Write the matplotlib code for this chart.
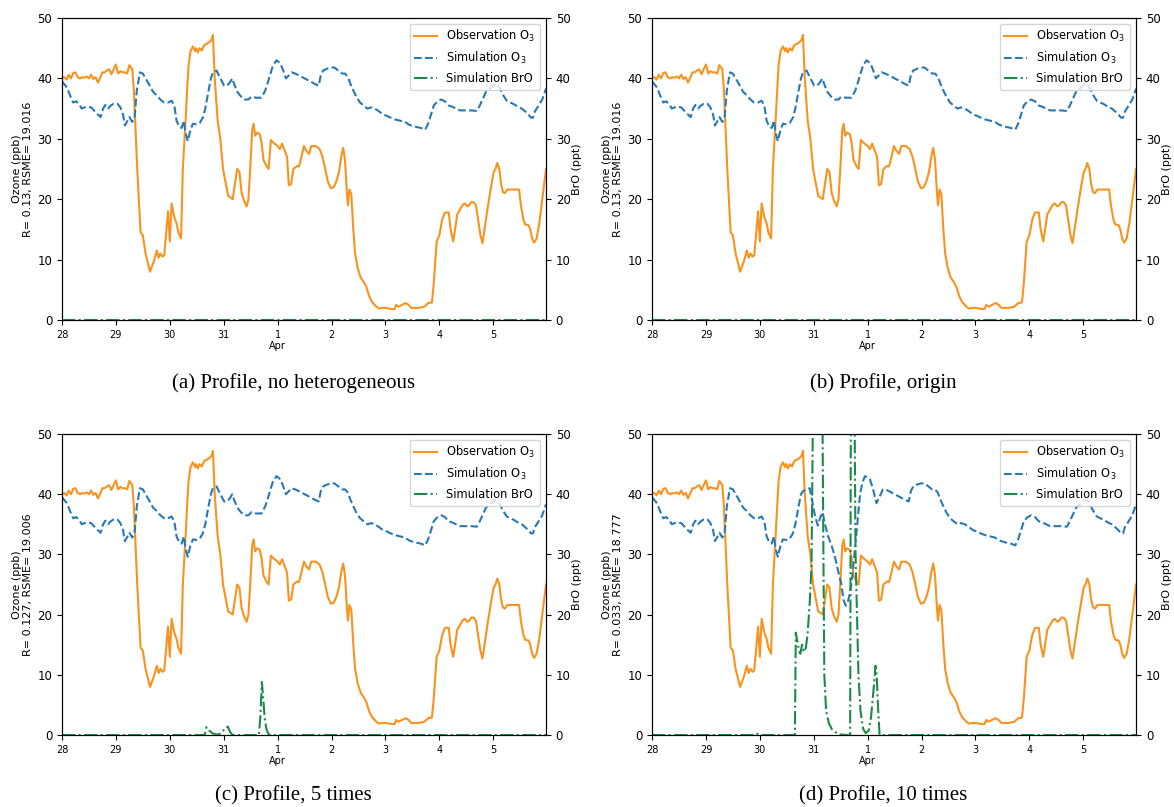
import numpy as np
import matplotlib
matplotlib.use('Agg')
import matplotlib.pyplot as plt

# hours since 28 Mar 00:00
obs_hours = [0, 1, 2, 3, 4, 5, 6, 7, 8, 9, 10, 11, 12, 13, 14, 15, 16, 17, 18, 19, 20, 21, 22, 23,
             24, 25, 26, 27, 28, 29, 30, 31.3, 32, 33.5, 35, 36, 37.2, 38.2, 39.2, 40, 41, 42.2,
             43, 43.8, 44.7, 45.5, 46.3, 47.2, 48, 48.8, 50, 51, 51.8, 53, 53.8, 55, 56.3, 57.2,
             58.3, 59.3, 59.7, 60.5, 61.3, 62.3, 63.3, 64.7, 65.7, 66.7, 67.2, 68, 69.3, 70.5,
             71.7, 73, 74, 75, 76, 76.8, 78, 79, 80, 81, 82.2, 83, 83.8, 84.7, 85.3, 86, 86.8,
             88, 88.8, 89.7, 91, 92, 93, 94.3, 96, 97, 98, 99.2, 100.2, 101, 102, 103, 104.7,
             105.5, 106.3, 107.7, 108.8, 110, 111, 113, 114.7, 116, 117.2, 118.3, 119.7, 121,
             122.2, 123.3, 124.3, 125.2, 126, 126.7, 127.3, 128, 128.8, 129.7, 130.5, 131.7, 133,
             134.3, 135.5, 136.7, 138, 139.7, 141, 143, 144.3, 145.5, 147.2, 148, 148.8, 149.7,
             151.3, 153, 154.3, 155.5, 157.2, 158.8, 161.3, 163, 164.7, 165.5, 166.8, 168, 169.2,
             170.5, 172.2, 173, 174.2, 175, 176, 177.2, 178.3, 179.3, 180.5, 181.3, 182.2, 183.3,
             184.3, 185.5, 186.3, 187.2, 188.3, 189.7, 191, 192.2, 193, 193.8, 194.7, 195.5,
             196.3, 197.2, 198.3, 200.5, 203.5, 204.3, 205.5, 206.3, 207.7, 208.5, 209.3, 210.2,
             211.3, 212.5, 213.5, 214.7, 215.5]
obs_o3 = [40.0, 40.2, 39.8, 40.6, 40.0, 40.9, 41.0, 40.2, 40.0, 40.2, 40.1, 40.3, 40.0, 40.6,
          39.9, 40.2, 39.3, 40.1, 41.0, 41.0, 41.3, 41.5, 40.7, 41.5, 42.3, 40.8, 41.2, 41.0,
          41.0, 40.8, 42.2, 41.5, 38.0, 25.0, 14.5, 14.0, 11.0, 9.5, 8.0, 8.8, 9.8, 11.5, 10.3,
          11.0, 10.5, 10.7, 14.0, 18.0, 13.0, 19.3, 17.0, 16.0, 14.5, 13.5, 25.0, 33.0, 42.0,
          44.5, 45.3, 44.5, 45.0, 44.3, 45.0, 44.6, 45.5, 45.8, 46.0, 46.5, 47.2, 40.0, 33.0,
          30.0, 25.0, 22.5, 20.5, 20.3, 20.0, 22.0, 25.0, 24.5, 21.0, 19.8, 18.8, 20.0, 25.0,
          31.5, 32.5, 30.5, 31.0, 30.8, 29.5, 26.5, 25.5, 25.0, 29.8, 29.3, 28.8, 28.3, 29.2,
          28.0, 27.0, 22.3, 22.5, 25.0, 25.5, 25.4, 26.5, 28.8, 28.0, 27.5, 28.8, 28.8, 28.3,
          27.0, 25.0, 23.0, 21.8, 22.0, 23.0, 24.5, 27.0, 28.5, 26.5, 22.0, 19.0, 21.6, 20.8,
          15.0, 11.0, 8.5, 7.0, 6.3, 5.5, 4.0, 3.0, 2.3, 1.9, 2.0, 2.0, 1.9, 1.8, 1.8, 2.5,
          2.2, 2.5, 2.8, 2.5, 2.0, 2.0, 2.0, 2.2, 2.8, 2.9, 6.0, 13.0, 14.0, 16.5, 17.8, 17.8,
          15.0, 13.0, 15.0, 17.5, 18.3, 19.0, 19.3, 18.8, 19.0, 19.5, 19.5, 19.0, 16.0, 14.0,
          12.7, 15.5, 19.0, 22.0, 24.5, 25.0, 26.0, 25.0, 22.5, 21.2, 21.0, 21.6, 21.6, 21.6,
          19.0, 16.5, 15.8, 15.7, 15.0, 13.5, 12.8, 13.5, 16.0, 19.0, 22.5, 25.0]

sim_hours = [0, 2.2, 3.8, 5, 6.3, 7.7, 8.8, 10, 11.3, 13, 14.7, 16, 17.2, 18.3, 19.3, 20.5, 21.7,
             23, 24.7, 26, 27.2, 28, 29.2, 30, 31.3, 32.3, 33.3, 34.7, 36, 37.2, 38.8, 40.5,
             42.2, 43.8, 45.5, 47.2, 48.8, 50, 51, 52.2, 53.3, 54.3, 55, 56, 57.2, 58.3, 59.7,
             61.3, 62.7, 63.8, 65, 66.3, 67.2, 68.8, 70.5, 72.2, 73.5, 74.7, 75.8, 76.7, 78,
             79.7, 81.3, 83, 84.3, 86.3, 88.8, 90.5, 92.2, 93.8, 95.5, 97.2, 98.3, 99.7, 101,
             102.2, 103.8, 105.5, 108, 110.5, 113, 114.3, 115.2, 116.3, 118, 119.7, 121.3, 123,
             124.7, 126, 127.2, 128.5, 129.7, 131, 132.7, 134.3, 136, 137.7, 139.3, 141.3, 143,
             144.7, 146.3, 148.3, 150.5, 152.7, 154.7, 157.2, 159.7, 161.7, 163, 164.3, 165.5,
             167.2, 168.8, 170.5, 172.2, 173.8, 175.5, 177.2, 179.7, 182.2, 184.7, 186, 187.2,
             188.8, 190.5, 192.2, 193.8, 195, 196.3, 198, 199.7, 201.3, 203, 204.7, 206.3,
             207.7, 208.8, 209.7, 210.5, 212.2, 213.8, 215.5]
sim_o3 = [39.5, 38.5, 37.0, 36.0, 36.2, 35.7, 35.0, 35.2, 35.3, 35.2, 34.5, 34.0, 33.6, 35.0,
          35.6, 35.0, 35.5, 35.8, 35.8, 35.2, 34.0, 32.2, 33.0, 33.6, 32.8, 33.5, 38.0, 41.0,
          40.8, 40.0, 39.0, 37.8, 37.2, 36.5, 36.0, 36.0, 36.3, 35.5, 33.0, 32.0, 31.8, 33.0,
          31.0, 29.6, 31.5, 32.5, 32.4, 32.6, 33.5, 35.0, 37.5, 40.0, 41.0, 41.3, 40.0, 38.8,
          38.8, 39.3, 40.0, 39.0, 37.8, 37.0, 36.5, 36.5, 37.0, 36.8, 36.8, 38.0, 40.0, 42.0,
          43.0, 42.5, 41.5, 40.0, 40.5, 41.0, 40.8, 40.5, 40.0, 39.5, 39.0, 38.8, 40.5, 41.3,
          41.6, 41.8, 41.8, 41.3, 40.8, 40.8, 40.3, 39.0, 38.0, 37.0, 36.0, 35.5, 35.0, 35.2,
          35.0, 34.5, 34.0, 33.8, 33.5, 33.2, 33.0, 32.8, 32.3, 32.0, 31.8, 31.5, 32.5, 34.0,
          35.5, 36.2, 36.5, 36.2, 35.5, 35.3, 35.0, 34.7, 34.7, 34.7, 34.6, 35.5, 36.5, 37.8,
          38.3, 39.0, 39.0, 38.3, 37.3, 36.3, 36.0, 35.7, 35.3, 35.0, 34.5, 34.0, 33.5, 33.5,
          34.5, 35.5, 36.5, 38.3]

# simulation O3 for the 10 times run (differs between 31 Mar and 1 Apr)
sim10_hours = [0, 2.2, 3.8, 5, 6.3, 7.7, 8.8, 10, 11.3, 13, 14.7, 16, 17.2, 18.3, 19.3, 20.5, 21.7,
               23, 24.7, 26, 27.2, 28, 29.2, 30, 31.3, 32.3, 33.3, 34.7, 36, 37.2, 38.8, 40.5,
               42.2, 43.8, 45.5, 47.2, 48.8, 50, 51, 52.2, 53.3, 54.3, 55, 56, 57.2, 58.3, 59.7,
               61.3, 62.7, 63.8, 65, 66.3, 67.2, 68.8, 70.2, 71.5, 72.5, 73.8, 74.8, 75.9, 77,
               78.4, 79.9, 81.3, 82.7, 84.3, 85.2, 86.2, 87.2, 88.1, 89, 89.6, 90.5, 91.5, 92.6,
               93.7, 94.8, 96, 97, 98.3, 99.9, 101.2, 102.8,
               103.8, 105.5, 108, 110.5, 113, 114.3, 115.2, 116.3, 118, 119.7, 121.3, 123,
               124.7, 126, 127.2, 128.5, 129.7, 131, 132.7, 134.3, 136, 137.7, 139.3, 141.3, 143,
               144.7, 146.3, 148.3, 150.5, 152.7, 154.7, 157.2, 159.7, 161.7, 163, 164.3, 165.5,
               167.2, 168.8, 170.5, 172.2, 173.8, 175.5, 177.2, 179.7, 182.2, 184.7, 186, 187.2,
               188.8, 190.5, 192.2, 193.8, 195, 196.3, 198, 199.7, 201.3, 203, 204.7, 206.3,
               207.7, 208.8, 209.7, 210.5, 212.2, 213.8, 215.5]
sim10_o3 = [39.5, 38.5, 37.0, 36.0, 36.2, 35.7, 35.0, 35.2, 35.3, 35.2, 34.5, 34.0, 33.6, 35.0,
            35.6, 35.0, 35.5, 35.8, 35.8, 35.2, 34.0, 32.2, 33.0, 33.6, 32.8, 33.5, 38.0, 41.0,
            40.8, 40.0, 39.0, 37.8, 37.2, 36.5, 36.0, 36.0, 36.3, 35.5, 33.0, 32.0, 31.8, 33.0,
            31.0, 29.6, 31.5, 32.5, 32.4, 32.6, 33.5, 35.0, 37.5, 40.0, 40.5, 40.8, 41.0, 38.5,
            36.5, 34.8, 36.0, 37.0, 35.0, 33.0, 31.5, 29.8, 27.5, 25.0, 22.5, 21.5, 22.2, 23.5,
            26.0, 28.0, 31.5, 35.5, 40.0, 42.0, 43.0, 42.8, 42.5, 41.0, 38.5, 39.5, 40.8,
            40.8, 40.5, 40.0, 39.5, 39.0, 38.8, 40.5, 41.3,
            41.6, 41.8, 41.8, 41.3, 40.8, 40.8, 40.3, 39.0, 38.0, 37.0, 36.0, 35.5, 35.0, 35.2,
            35.0, 34.5, 34.0, 33.8, 33.5, 33.2, 33.0, 32.8, 32.3, 32.0, 31.8, 31.5, 32.5, 34.0,
            35.5, 36.2, 36.5, 36.2, 35.5, 35.3, 35.0, 34.7, 34.7, 34.7, 34.6, 35.5, 36.5, 37.8,
            38.3, 39.0, 39.0, 38.3, 37.3, 36.3, 36.0, 35.7, 35.3, 35.0, 34.5, 34.0, 33.5, 33.5,
            34.5, 35.5, 36.5, 38.3]

bro0_hours = [0, 215.5]
bro0 = [0.0, 0.0]

bro5_hours = [0, 63.5, 64.3, 65.3, 67, 69, 71, 72.7, 73.8, 75, 76, 87.7, 88.3, 89, 89.6, 90.2,
              91, 92, 93, 215.5]
bro5 = [0.0, 0.0, 1.3, 0.8, 0.3, 0.05, 0.3, 1.2, 1.4, 0.4, 0.0, 0.0, 3.0, 8.8, 6.0, 3.0,
        1.0, 0.1, 0.0, 0.0]

bro10_hours = [0, 45, 46.5, 47.5, 63.6, 64, 64.7, 65.5, 66, 66.8, 67.5, 68.5, 69.3, 70.2, 71,
               71.6, 73, 75, 75.9, 76.3, 76.7, 77.5, 78.7, 80, 81.5, 83.6, 86.6, 88.2, 88.5,
               89.3, 90.2, 90.6, 91.9, 92.8, 94, 95.2, 96.5, 97.5, 98.5, 99.5, 100, 100.7,
               101.3, 215.5]
bro10 = [0.0, 0.0, 0.3, 0.0, 0.0, 17.0, 15.5, 14.0, 13.5, 15.0, 13.8, 14.5, 17.0, 22.0, 28.0,
         52.0, 80.0, 70.0, 52.0, 30.0, 10.0, 4.0, 2.0, 1.0, 0.5, 0.1, 0.0, 0.0, 52.0, 75.0,
         52.0, 30.0, 10.0, 4.0, 1.0, 0.3, 0.8, 3.0, 7.0, 11.5, 10.0, 4.0, 0.0, 0.0]

stats = ['R= 0.13, RSME= 19.016', 'R= 0.13, RSME= 19.016',
         'R= 0.127, RSME= 19.006', 'R= 0.033, RSME= 18.777']
captions = ['(a) Profile, no heterogeneous', '(b) Profile, origin',
            '(c) Profile, 5 times', '(d) Profile, 10 times']
day_labels = ['28', '29', '30', '31', '1\nApr', '2', '3', '4', '5']

panels = [
    (sim_hours, sim_o3, bro0_hours, bro0),
    (sim_hours, sim_o3, bro0_hours, bro0),
    (sim_hours, sim_o3, bro5_hours, bro5),
    (sim10_hours, sim10_o3, bro10_hours, bro10),
]

positions = [
    [0.0528, 0.6035, 0.4123, 0.3742],
    [0.5554, 0.6035, 0.4123, 0.3742],
    [0.0528, 0.0892, 0.4123, 0.3730],
    [0.5554, 0.0892, 0.4123, 0.3730],
]

fig = plt.figure(figsize=(11.74, 8.07), dpi=100)

for i in range(4):
    sh, so, bh, bv = panels[i]
    ax = fig.add_axes(positions[i])
    l1, = ax.plot(obs_hours, obs_o3, color='#f7931e', lw=1.5, label='Observation O$_3$')
    l2, = ax.plot(sh, so, color='#2878b5', lw=1.5, ls='--', label='Simulation O$_3$')
    ax.set_ylim(0, 50)
    ax.set_xlim(0, 215.5)
    ax.set_xticks(np.arange(0, 216, 24))
    ax.set_xticklabels(day_labels, fontsize=7)
    ax.tick_params(axis='y', labelsize=8.5)
    ax.set_ylabel('Ozone (ppb)\n' + stats[i], fontsize=8, labelpad=3)

    ax2 = ax.twinx()
    l3, = ax2.plot(bh, bv, color='#1a8a4a', lw=1.5, ls='-.', label='Simulation BrO')
    ax2.set_ylim(0, 50)
    ax2.tick_params(axis='y', labelsize=8.5)
    ax2.set_ylabel('BrO (ppt)', fontsize=8, labelpad=1)

    ax2.legend([l1, l2, l3], [l.get_label() for l in (l1, l2, l3)],
               loc='upper right', fontsize=8.3)

    cx = positions[i][0] + positions[i][2] / 2 - 0.009
    cy = 0.5254 if i < 2 else 0.0136
    fig.text(cx, cy, captions[i], ha='center', va='center',
             fontsize=15, family='Liberation Serif')

fig.savefig('out.png', dpi=100)
